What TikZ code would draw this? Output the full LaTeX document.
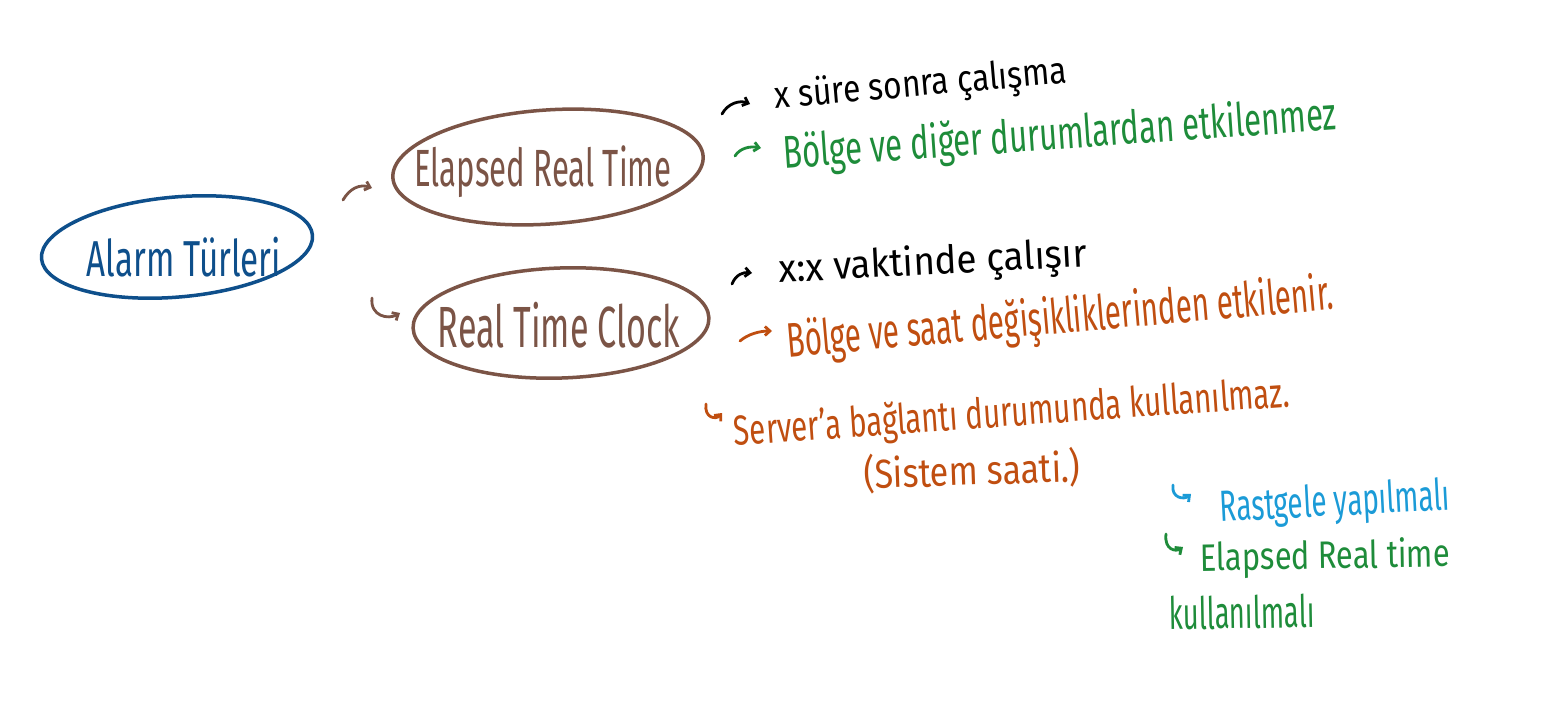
\documentclass[tikz,border=0pt]{standalone}
\usepackage{fontspec}
\setmainfont{Fira Sans}
\usetikzlibrary{shapes.geometric,arrows.meta}
\definecolor{cblue}{HTML}{0E4F8B}
\definecolor{cbrown}{HTML}{7B5446}
\definecolor{cgreen}{HTML}{1E8C3A}
\definecolor{corange}{HTML}{C04E10}
\definecolor{ccyan}{HTML}{1B9BD7}
\newcommand\hw[3]{\resizebox*{#1pt}{#2pt}{#3}}
\tikzset{
  bubble/.style={draw, ellipse, line width=3.5pt, inner sep=0pt},
  note/.style={inner sep=0pt, anchor=center},
  tick/.style={line width=2.8pt, line cap=round, -{Straight Barb[length=5pt,width=9pt]}},
}
\begin{document}
\begin{tikzpicture}[x=1pt,y=-1pt]
\useasboundingbox[fill=white] (0,0) rectangle (1563,703);
% main bubbles
\node[bubble, cblue, minimum width=272pt, minimum height=100pt, rotate=5] (alarm) at (177,247) {};
\node[note, text=cblue] (alarmT) at (184,257) {\hw{194}{40}{Alarm Türleri}};
\node[bubble, cbrown, minimum width=311pt, minimum height=114pt, rotate=4] (ert) at (548,167) {};
\node[note, text=cbrown] (ertT) at (543,172) {\hw{257}{52}{Elapsed Real Time}};
\node[bubble, cbrown, minimum width=296pt, minimum height=110pt, rotate=2] (rtc) at (561,323) {};
\node[note, text=cbrown] (rtcT) at (559,325) {\hw{242}{46}{Real Time Clock}};
% notes
\node[note, rotate=5] (n1) at (921,86) {\hw{293}{38}{x süre sonra çalışma}};
\node[note, rotate=4, text=cgreen] (n2) at (1060,136) {\hw{554}{46}{Bölge ve diğer durumlardan etkilenmez}};
\node[note, rotate=3] (n3) at (933,264) {\hw{308}{40}{x:x vaktinde çalışır}};
\node[note, rotate=5, text=corange] (n4) at (1060,320) {\hw{548}{50}{Bölge ve saat değişikliklerinden etkilenir.}};
\node[note, rotate=4, text=corange] (n5) at (1012,414) {\hw{557}{42}{Server'a bağlantı durumunda kullanılmaz.}};
\node[note, rotate=2, text=corange] (n6) at (972,471) {\hw{217}{40}{(Sistem saati.)}};
\node[note, rotate=3, text=ccyan] (n7) at (1335,504) {\hw{230}{42}{Rastgele yapılmalı}};
\node[note, rotate=1, text=cgreen] (n8) at (1325,558) {\hw{250}{38}{Elapsed Real time}};
\node[note, rotate=1, text=cgreen] (n9) at (1242,612) {\hw{145}{34}{kullanılmalı}};
% marks
\coordinate (a1s) at (343,200); \coordinate (a1e) at (372,188);
\draw[tick, cbrown] (a1s) .. controls (350,188) and (360,184) .. (a1e);
\coordinate (a2s) at (372,298); \coordinate (a2e) at (400,313);
\draw[tick, cbrown] (a2s) .. controls (370,316) and (388,320) .. (a2e);
\coordinate (a3s) at (722,114); \coordinate (a3e) at (750,104);
\draw[tick, black] (a3s) .. controls (728,103) and (740,100) .. (a3e);
\coordinate (a4s) at (735,156); \coordinate (a4e) at (761,148);
\draw[tick, cgreen] (a4s) .. controls (740,148) and (750,146) .. (a4e);
\coordinate (a5s) at (732,284); \coordinate (a5e) at (752,273);
\draw[tick, black] (a5s) .. controls (736,274) and (744,272) .. (a5e);
\coordinate (a6s) at (740,341); \coordinate (a6e) at (772,331);
\draw[tick, corange] (a6s) .. controls (748,334) and (760,331) .. (a6e);
\coordinate (a7s) at (706,404); \coordinate (a7e) at (722,413);
\draw[tick, corange] (a7s) .. controls (704,418) and (716,420) .. (a7e);
\coordinate (a8s) at (1173,485); \coordinate (a8e) at (1191,494);
\draw[tick, ccyan] (a8s) .. controls (1171,498) and (1184,500) .. (a8e);
\coordinate (a9s) at (1166,534); \coordinate (a9e) at (1183,547);
\draw[tick, cgreen] (a9s) .. controls (1164,550) and (1176,552) .. (a9e);
\end{tikzpicture}
\end{document}
